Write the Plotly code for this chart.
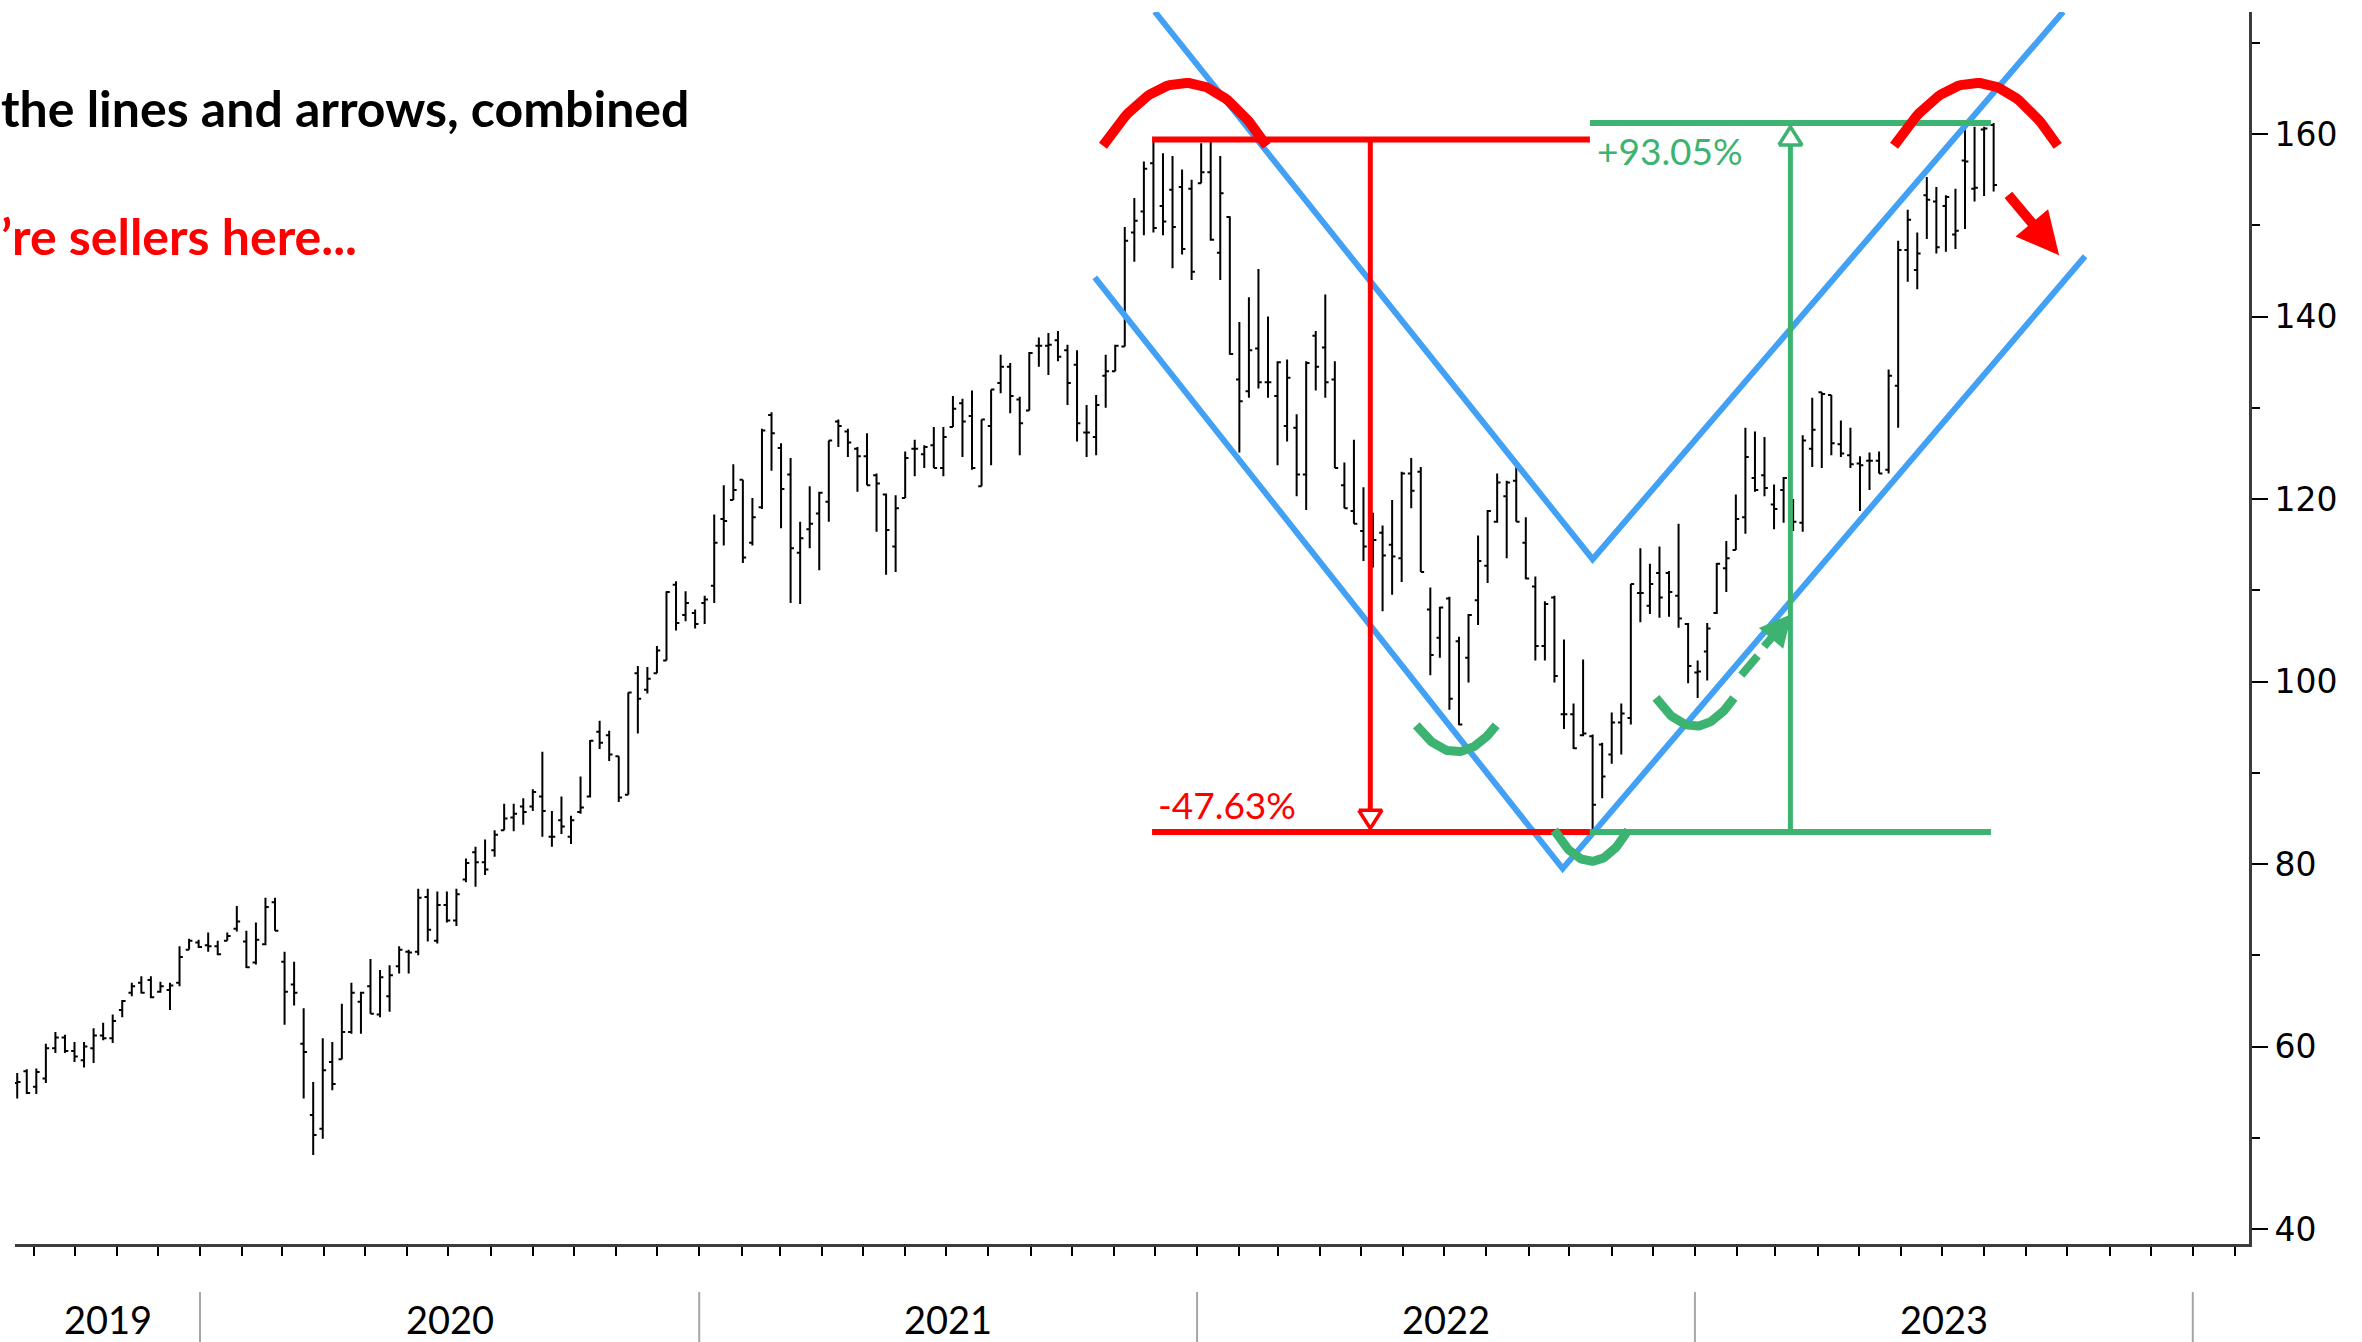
import numpy as np
import pandas as pd
import plotly.graph_objects as go

# weekly bars
start_week = "2019-08-20"
opens = [56.0, 57.3, 55.6, 56.5, 59.8, 61.0, 59.5, 58.5, 59.8, 61.2, 60.9, 64.0, 65.9, 67.0, 67.3, 66.0, 66.2, 67.0, 70.6, 71.4,
         71.1, 71.0, 71.6, 72.9, 71.5, 69.2, 71.2, 75.8, 69.3, 66.8, 60.3, 52.5, 51.0, 58.3, 58.6, 61.6, 64.9, 66.6, 63.5, 65.5,
         68.8, 70.4, 70.4, 76.4, 71.6, 75.5, 73.8, 78.3, 81.3, 80.2, 81.5, 83.7, 85.1, 86.3, 86.3, 87.4, 83.0, 84.8, 83.0, 85.7,
         87.4, 94.5, 94.1, 91.8, 87.6, 100.9, 99.1, 100.9, 102.3, 110.6, 107.3, 107.5, 108.6, 110.5, 117.8, 119.9, 122.1, 115.2, 119.1, 129.2,
         125.6, 122.7, 114.1, 116.7, 118.4, 119.7, 128.5, 127.4, 125.5, 124.7, 122.6, 120.5, 114.8, 120.1, 125.5, 124.9, 125.9, 123.4, 127.9, 130.5,
         129.1, 121.4, 128.0, 132.7, 134.5, 130.9, 129.7, 136.8, 136.8, 137.4, 136.3, 134.7, 127.3, 126.8, 133.5, 134.0, 136.7, 149.2, 151.5, 156.8,
         152.1, 153.9, 154.2, 154.0, 154.6, 155.8, 147.0, 150.9, 133.1, 131.8, 136.5, 132.8, 131.3, 128.0, 127.8, 122.7, 137.9, 136.6, 133.1, 121.5,
         118.7, 116.5, 114.8, 116.3, 115.0, 113.5, 122.8, 123.0, 107.9, 104.8, 109.1, 104.4, 102.6, 108.9, 112.7, 117.5, 120.3, 122.0, 115.2, 110.4,
         103.9, 109.2, 96.4, 96.4, 94.1, 94.0, 93.1, 92.0, 95.5, 96.0, 109.7, 108.3, 111.9, 111.9, 109.4, 106.3, 101.0, 103.3, 107.5, 112.4,
         114.4, 118.0, 122.3, 122.6, 119.4, 121.0, 118.8, 117.4, 125.5, 131.7, 131.4, 126.0, 124.8, 123.9, 124.2, 124.2, 123.2, 132.4, 147.3, 145.1,
         153.3, 152.6, 152.1, 149.0, 157.1, 154.0, 160.5, 161.0]
highs = [57.1, 57.5, 57.6, 60.3, 61.6, 61.3, 60.5, 60.5, 62.0, 62.6, 63.5, 65.1, 67.0, 67.7, 67.7, 67.1, 67.0, 71.0, 71.8, 71.7,
         72.5, 71.6, 72.5, 75.4, 72.7, 73.6, 76.3, 76.3, 70.4, 69.3, 64.2, 56.1, 60.9, 60.5, 64.7, 67.0, 66.0, 69.6, 68.4, 68.9,
         71.0, 70.6, 77.3, 77.3, 77.0, 77.0, 77.3, 80.6, 81.9, 82.7, 83.7, 86.6, 86.6, 87.2, 88.2, 92.3, 85.8, 87.4, 85.3, 89.6,
         93.6, 95.7, 94.6, 91.8, 98.8, 101.7, 101.6, 103.9, 109.9, 111.0, 109.9, 107.9, 109.4, 118.3, 121.5, 123.8, 122.1, 120.1, 127.7, 129.5,
         126.1, 124.5, 117.5, 121.4, 120.8, 126.4, 128.7, 127.7, 125.7, 127.2, 122.8, 120.6, 120.4, 125.2, 126.5, 125.9, 127.9, 127.9, 131.3, 131.0,
         131.9, 128.7, 132.0, 135.8, 134.9, 131.2, 136.1, 137.7, 138.2, 138.4, 136.9, 136.3, 130.3, 131.4, 135.8, 136.9, 149.8, 153.0, 157.0, 159.4,
         157.9, 157.6, 156.1, 155.0, 159.0, 159.4, 157.6, 151.0, 139.4, 142.1, 145.2, 140.0, 135.1, 135.3, 129.3, 135.1, 138.4, 142.4, 135.1, 124.0,
         126.5, 121.3, 118.5, 117.1, 119.9, 123.0, 124.5, 123.5, 110.3, 108.2, 109.3, 104.9, 107.4, 116.0, 118.8, 122.8, 122.0, 123.5, 118.0, 111.5,
         108.8, 109.4, 104.6, 97.6, 102.4, 94.2, 93.3, 96.6, 97.6, 110.7, 114.6, 112.9, 114.8, 112.1, 117.3, 106.4, 102.3, 106.4, 113.0, 115.4,
         120.5, 127.8, 127.4, 126.8, 121.6, 122.4, 120.0, 127.0, 131.1, 131.7, 131.4, 128.6, 127.8, 124.7, 125.1, 125.2, 134.2, 148.3, 151.7, 149.2,
         155.3, 154.2, 153.3, 154.0, 160.6, 160.8, 160.8, 161.2]
lows = [54.3, 54.8, 54.8, 56.0, 59.3, 59.3, 58.3, 57.7, 58.2, 60.7, 60.4, 63.2, 65.5, 65.8, 65.3, 65.9, 64.0, 66.6, 70.6, 70.8,
        70.4, 70.0, 71.6, 72.6, 68.6, 69.0, 71.1, 72.7, 62.4, 64.5, 54.3, 48.1, 49.9, 55.2, 58.6, 61.4, 61.4, 63.6, 63.2, 63.8,
        68.0, 68.0, 70.0, 71.5, 71.3, 73.6, 73.2, 78.0, 77.5, 78.8, 80.8, 83.7, 83.6, 84.3, 85.8, 83.0, 81.9, 83.3, 82.2, 85.5,
        87.3, 92.6, 91.3, 86.8, 87.6, 94.3, 98.7, 100.9, 102.3, 105.6, 106.6, 105.8, 106.3, 108.6, 114.9, 119.9, 113.0, 114.9, 118.9, 123.1,
        116.8, 108.6, 108.5, 114.6, 112.2, 117.5, 125.7, 124.6, 120.8, 121.5, 116.4, 111.7, 112.0, 120.1, 122.5, 123.4, 123.4, 122.5, 127.9, 124.6,
        123.2, 121.4, 123.7, 131.6, 129.4, 124.8, 129.7, 134.5, 133.6, 135.1, 130.3, 126.3, 124.6, 124.8, 130.0, 134.0, 136.7, 146.0, 148.9, 149.2,
        148.9, 145.3, 146.8, 144.0, 154.6, 148.3, 144.0, 135.8, 125.1, 131.1, 132.1, 131.1, 123.7, 126.3, 120.3, 118.8, 131.9, 131.1, 123.4, 119.0,
        117.3, 113.2, 112.5, 107.7, 109.5, 110.9, 119.0, 112.0, 100.7, 102.6, 96.9, 95.2, 99.9, 106.2, 110.8, 117.4, 113.5, 117.5, 111.2, 102.3,
        102.3, 99.9, 94.8, 92.6, 94.0, 83.5, 87.2, 91.0, 92.0, 95.3, 106.5, 107.4, 107.0, 107.1, 105.9, 99.8, 98.2, 100.1, 107.4, 109.8,
        114.4, 116.2, 120.8, 120.3, 116.7, 117.4, 116.5, 116.4, 123.5, 123.4, 124.8, 124.6, 123.4, 118.7, 121.0, 122.8, 122.8, 127.8, 143.8, 143.0,
        148.5, 146.9, 147.1, 147.4, 149.6, 152.6, 153.2, 153.7]
closes = [56.1, 54.9, 57.2, 59.8, 61.0, 59.5, 58.9, 60.0, 61.2, 60.9, 62.8, 65.0, 66.6, 65.9, 65.4, 66.6, 66.7, 69.8, 71.6, 70.9,
          71.0, 70.1, 72.1, 73.7, 68.7, 71.7, 75.3, 72.7, 66.0, 65.9, 59.4, 50.3, 57.4, 55.9, 61.6, 65.9, 65.9, 63.6, 67.6, 67.8,
          70.6, 70.3, 76.3, 72.8, 75.5, 73.8, 76.7, 80.1, 80.2, 79.4, 83.2, 85.0, 85.5, 85.7, 87.9, 85.8, 83.0, 84.1, 84.8, 86.2,
          93.5, 93.3, 92.0, 87.3, 98.8, 98.1, 100.3, 103.4, 109.8, 106.4, 108.6, 106.3, 109.0, 115.2, 117.6, 121.0, 113.6, 118.0, 127.5, 127.2,
          121.1, 114.6, 115.7, 117.3, 120.7, 126.4, 128.0, 126.2, 124.7, 121.5, 121.7, 116.6, 119.0, 124.5, 125.5, 125.7, 123.4, 126.8, 129.9, 128.5,
          123.4, 128.7, 132.0, 134.5, 131.3, 128.3, 136.0, 136.8, 136.9, 135.6, 132.7, 128.3, 127.3, 130.3, 134.0, 136.8, 148.3, 150.5, 156.2, 149.7,
          150.4, 149.8, 147.4, 144.9, 155.8, 148.4, 153.5, 135.9, 130.7, 136.3, 132.8, 132.8, 135.0, 133.3, 122.7, 134.9, 134.5, 132.8, 123.4, 119.0,
          117.3, 114.8, 115.5, 113.8, 113.7, 122.8, 120.9, 112.0, 102.9, 108.1, 98.1, 95.3, 107.3, 113.2, 118.7, 121.8, 121.8, 117.5, 111.3, 103.9,
          108.5, 100.6, 96.4, 92.7, 94.3, 86.5, 89.6, 95.5, 96.5, 110.7, 109.7, 110.7, 109.2, 109.8, 106.9, 101.7, 101.1, 105.8, 112.9, 113.5,
          117.8, 124.6, 121.0, 121.2, 118.9, 122.3, 117.5, 126.4, 127.6, 131.5, 126.1, 125.0, 123.8, 123.7, 124.2, 122.8, 133.5, 147.3, 150.6, 146.9,
          152.8, 147.6, 153.1, 149.4, 157.0, 154.1, 160.6, 154.4]

peak_level = 159.4
trough_level = 83.5
rebound_level = 161.2
drop_label = "-47.63%"
rise_label = "+93.05%"
year_labels = ["2019", "2020", "2021", "2022", "2023"]
y_ticks = [40, 60, 80, 100, 120, 140, 160]
headline = "the lines and arrows, combined"
subline = "’re sellers here..."

x_start = pd.Timestamp("2019-08-18 09:00")
x_end = pd.Timestamp("2024-02-11 05:00")

RED = "#ff0000"
GREEN = "#3cb371"
BLUE = "#42a0f5"

dates = pd.date_range(start_week, periods=len(closes), freq="7D")

fig = go.Figure()
fig.add_trace(go.Ohlc(
    x=dates, open=opens, high=highs, low=lows, close=closes,
    increasing=dict(line=dict(color="black", width=2)),
    decreasing=dict(line=dict(color="black", width=2)),
    tickwidth=0.35, hoverinfo="skip", showlegend=False,
))


def add_line(xs, ys, color, width):
    fig.add_trace(go.Scatter(x=list(xs), y=list(ys), mode="lines",
                             line=dict(color=color, width=width),
                             hoverinfo="skip", showlegend=False))


def bow(center, apex, half_days, depth, n=60):
    # parabolic cap (depth > 0) or smile (depth < 0) through the apex
    u = np.linspace(-1, 1, n)
    xs = pd.Timestamp(center) + pd.to_timedelta(half_days * u, unit="D")
    ys = apex - depth * u ** 2
    return xs, ys


# channel lines
add_line(["2021-12-01", "2022-10-18", "2023-09-28"], [173.4, 113.4, 173.4], BLUE, 6)
add_line(["2021-10-18", "2022-09-26", "2023-10-14"], [144.3, 79.5, 146.6], BLUE, 6)

# drawdown measure (red)
add_line(["2021-11-29", "2022-10-16"], [peak_level, peak_level], RED, 6)
add_line(["2021-11-29", "2022-10-16"], [trough_level, trough_level], RED, 6)
add_line(["2022-05-08", "2022-05-08"], [peak_level, trough_level + 2.4], RED, 5)
tip = pd.Timestamp("2022-05-08")
fig.add_trace(go.Scatter(
    x=[tip - pd.Timedelta(days=8.5), tip + pd.Timedelta(days=8.5), tip, tip - pd.Timedelta(days=8.5)],
    y=[trough_level + 2.4, trough_level + 2.4, trough_level + 0.4, trough_level + 2.4],
    mode="lines", fill="toself", fillcolor="white", line=dict(color=RED, width=3.5),
    hoverinfo="skip", showlegend=False))

# rebound measure (green)
add_line(["2022-10-16", "2023-08-06"], [trough_level, trough_level], GREEN, 6)
add_line(["2022-10-16", "2023-08-06"], [rebound_level, rebound_level], GREEN, 6)
add_line(["2023-03-12", "2023-03-12"], [trough_level, rebound_level - 2.4], GREEN, 5)
tip = pd.Timestamp("2023-03-12")
fig.add_trace(go.Scatter(
    x=[tip - pd.Timedelta(days=8.5), tip + pd.Timedelta(days=8.5), tip, tip - pd.Timedelta(days=8.5)],
    y=[rebound_level - 2.4, rebound_level - 2.4, rebound_level - 0.4, rebound_level - 2.4],
    mode="lines", fill="toself", fillcolor="white", line=dict(color=GREEN, width=3.5),
    hoverinfo="skip", showlegend=False))

# tops and bottoms
for c in ["2021-12-23", "2023-07-26"]:
    xs, ys = bow(c, 165.6, 60, 6.9)
    add_line(xs, ys, RED, 10)
for c, p, hw, d in [("2022-07-10", 92.3, 29.3, -2.9),
                    ("2022-10-17", 80.3, 27.1, -3.4),
                    ("2023-01-01", 95.1, 28.6, -3.1)]:
    xs, ys = bow(c, p, hw, d)
    add_line(xs, ys, GREEN, 9)

# dashed green arrow
add_line(["2023-02-04", "2023-02-16"], [100.7, 102.8], GREEN, 8)
fig.add_annotation(x="2023-03-13", y=107.4, ax=-29, ay=34, text="", showarrow=True,
                   arrowhead=2, arrowsize=0.8, arrowwidth=8, arrowcolor=GREEN)
# red arrow down
fig.add_annotation(x="2023-09-25", y=146.7, ax=-52, ay=-62, text="", showarrow=True,
                   arrowhead=2, arrowsize=0.85, arrowwidth=10, arrowcolor=RED)

fig.add_annotation(x="2021-12-02", y=trough_level, text=drop_label, showarrow=False,
                   xanchor="left", yanchor="bottom", yshift=3,
                   font=dict(family="Lato", size=37, color=RED))
fig.add_annotation(x="2022-10-20", y=rebound_level, text=rise_label, showarrow=False,
                   xanchor="left", yanchor="top", yshift=-3,
                   font=dict(family="Lato", size=37, color=GREEN))

# y-axis arrow ticks
fig.add_trace(go.Scatter(
    x=[x_end + pd.Timedelta(days=4)] * len(y_ticks), y=y_ticks, mode="markers",
    marker=dict(symbol="triangle-right", size=10, color="black"),
    cliponaxis=False, hoverinfo="skip", showlegend=False))

# year labels and separators
span = (x_end - x_start).total_seconds()
for i, yl in enumerate(year_labels):
    a = max(pd.Timestamp(f"{yl}-01-01"), x_start)
    b = pd.Timestamp(f"{int(yl) + 1}-01-01")
    fig.add_annotation(x=a + (b - a) / 2, y=0, xref="x", yref="paper", text=yl,
                       showarrow=False, yanchor="middle", yshift=-75,
                       font=dict(family="Lato", size=38, color="black"))
for yr in range(2020, 2025):
    fx = (pd.Timestamp(f"{yr}-01-01") - x_start).total_seconds() / span
    fig.add_shape(type="line", xref="paper", yref="paper", x0=fx, x1=fx,
                  y0=-0.039, y1=-0.08, line=dict(color="#a6a6a6", width=2))

fig.add_annotation(x=0, y=0.922, xref="paper", yref="paper", text=headline, showarrow=False,
                   xanchor="left", yanchor="middle", xshift=-16,
                   font=dict(family="Lato", size=50, color="black", weight=700))
fig.add_annotation(x=0, y=0.818, xref="paper", yref="paper", text=subline, showarrow=False,
                   xanchor="left", yanchor="middle", xshift=-16,
                   font=dict(family="Lato", size=50, color=RED, weight=700))

months = pd.date_range("2019-09-01", "2024-02-01", freq="MS")
fig.update_layout(
    width=2362, height=1342,
    margin=dict(l=15, r=113, t=12, b=98),
    paper_bgcolor="white", plot_bgcolor="white",
    showlegend=False,
    xaxis=dict(range=[x_start, x_end], rangeslider=dict(visible=False),
               showgrid=False, zeroline=False, showline=True, linecolor="#3c3c3c", linewidth=3,
               tickmode="array", tickvals=months, showticklabels=False,
               ticks="outside", ticklen=9, tickwidth=2, tickcolor="black"),
    yaxis=dict(range=[38.36, 173.37], side="right", showgrid=False, zeroline=False,
               showline=True, linecolor="#3c3c3c", linewidth=3,
               tickmode="array", tickvals=y_ticks, ticks="outside", ticklen=16, tickwidth=2,
               tickcolor="black", tickfont=dict(family="DejaVu Sans", size=33, color="black"),
               minor=dict(tickmode="linear", tick0=0, dtick=10, ticks="outside",
                          ticklen=8, tickwidth=2, tickcolor="black")),
)

fig.write_html("out.html", config={"displayModeBar": False},
               post_script="document.body.style.margin='0';document.body.style.overflow='hidden';")
